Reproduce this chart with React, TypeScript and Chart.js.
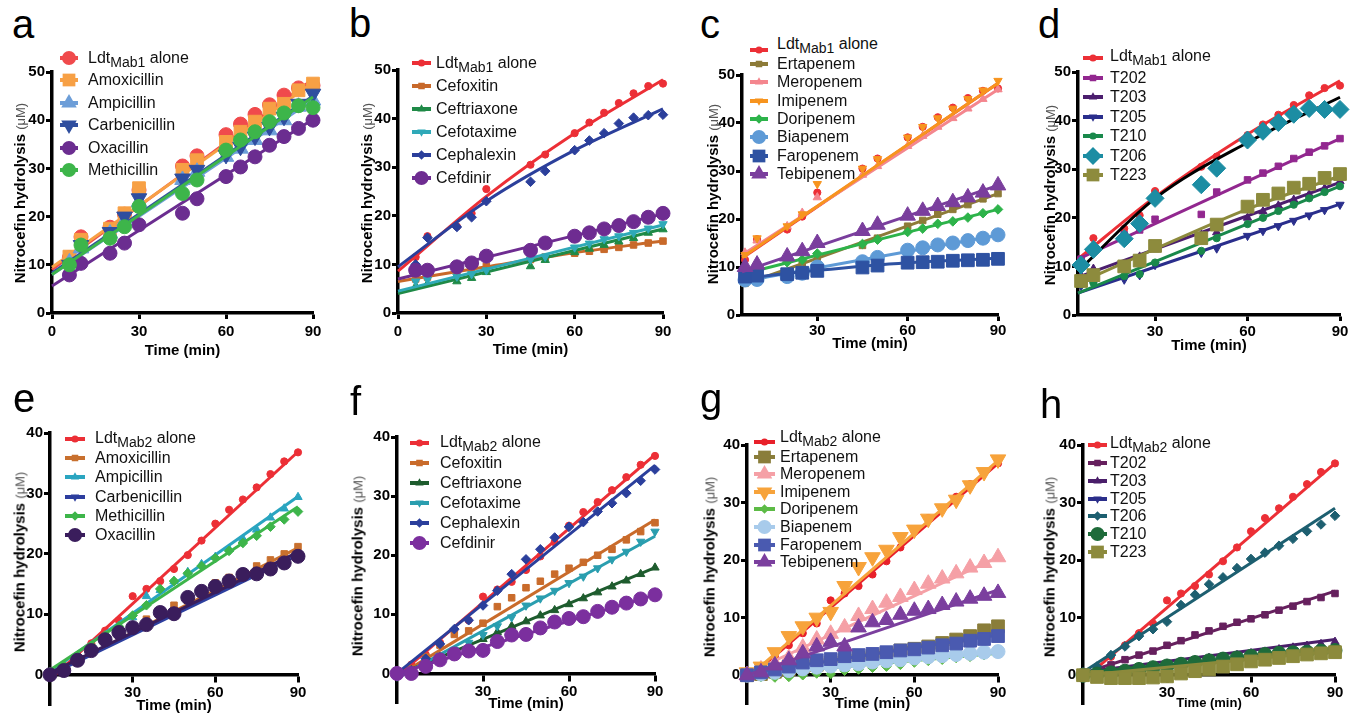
import React, { useEffect, useRef } from 'react';
import { Chart, registerables } from 'chart.js';
Chart.register(...registerables);

const FONT = '"Liberation Sans", Arial, Helvetica, sans-serif';

// ---------- shared axes data ----------
const T_TOP = [6, 10, 20, 25, 30, 45, 50, 60, 65, 70, 75, 80, 85, 90];
const T_BOT = [0, 5, 10, 15, 20, 25, 30, 35, 40, 45, 50, 55, 60, 65, 70, 75, 80, 85, 90];
const X_END = 90;
const FIT_KNOTS = [30, 60];
const X_TICKS_AB = [0, 30, 60, 90];
const X_TICKS_REST = [30, 60, 90];
const Y_TICKS_TOP = [0, 10, 20, 30, 40, 50];
const Y_TICKS_BOT = [0, 10, 20, 30, 40];

// ---------- controls ----------
const LDT1 = [11.5, 15.8, 17.8, 20.5, 25.5, 30.5, 32.6, 37.0, 39.2, 41.2, 43.2, 45.2, 46.7, 47.2];
const LDT2 = [0.0, 1.5, 3.2, 5.2, 7.3, 9.0, 13.0, 14.2, 15.5, 17.5, 19.8, 22.2, 25.0, 27.3, 29.0, 31.0, 33.2, 35.3, 36.8];

// ---------- panel a ----------
const A_LABELS = ['LdtMab1 alone', 'Amoxicillin', 'Ampicillin', 'Carbenicillin', 'Oxacillin', 'Methicillin'];
const A_AMOX = [11.7, 15.2, 17.5, 20.7, 25.9, 29.7, 31.7, 35.5, 37.6, 39.7, 42.4, 43.4, 46.2, 47.6];
const A_AMP = [10.5, 13.4, 16.5, 19.0, 23.0, 27.6, 29.3, 32.4, 34.1, 35.9, 37.9, 40.0, 42.8, 44.1];
const A_CARB = [10.0, 14.1, 16.8, 20.0, 23.8, 27.9, 29.7, 32.8, 34.5, 36.6, 38.6, 40.7, 43.4, 45.5];
const A_OXA = [7.9, 10.3, 12.4, 14.5, 18.3, 20.7, 23.7, 28.3, 30.3, 32.4, 34.8, 36.6, 38.3, 40.0];
const A_METH = [10.0, 14.1, 15.5, 17.9, 22.1, 24.8, 27.6, 33.8, 35.9, 37.6, 39.7, 41.5, 43.0, 42.6];
const A_FIT_RED = [9.0, 48.5];
const A_FIT_AMOX = [9.5, 47.8];
const A_FIT_AMP = [8.0, 44.2];
const A_FIT_CARB = [8.3, 45.0];
const A_FIT_OXA = [5.6, 40.2];
const A_FIT_METH = [8.0, 44.8];

// ---------- panel b ----------
const B_LABELS = ['LdtMab1 alone', 'Cefoxitin', 'Ceftriaxone', 'Cefotaxime', 'Cephalexin', 'Cefdinir'];
const B_CEFOX = [7.0, 7.4, 8.4, 9.0, 9.6, 11.0, 11.5, 12.3, 12.7, 13.1, 13.5, 14.0, 14.4, 14.8];
const B_CEFTRI = [5.5, 6.0, 6.5, 7.2, 8.4, 9.6, 10.9, 12.5, 13.2, 14.0, 14.7, 15.4, 16.5, 17.2];
const B_CEFOT = [6.5, 6.9, 7.5, 8.0, 8.8, 11.0, 11.6, 13.5, 14.3, 15.2, 15.8, 16.5, 17.4, 18.3];
const B_CEPH = [10.0, 15.5, 17.7, 19.7, 23.0, 27.0, 29.2, 33.5, 35.5, 37.0, 39.0, 40.2, 40.7, 40.8];
const B_CEFD = [8.8, 8.8, 9.5, 10.3, 11.7, 12.9, 14.4, 15.8, 16.5, 17.3, 18.0, 18.8, 19.7, 20.5];
const B_FIT_RED = [8.6, 24.0, 37.0, 48.0];
const B_FIT_CEFOX = [6.5, 9.5, 12.4, 14.8];
const B_FIT_CEFTRI = [4.0, 17.3];
const B_FIT_CEFOT = [4.5, 18.1];
const B_FIT_CEPH = [9.5, 23.0, 33.5, 42.0];
const B_FIT_CEFD = [7.0, 20.4];

// ---------- panel c ----------
const C_LABELS = ['LdtMab1 alone', 'Ertapenem', 'Meropenem', 'Imipenem', 'Doripenem', 'Biapenem', 'Faropenem', 'Tebipenem'];
const C_ERTA = [6.6, 7.5, 9.0, 10.5, 12.0, 14.5, 16.0, 18.5, 19.7, 21.0, 22.0, 23.0, 24.2, 25.3];
const C_MERO = [13.0, 15.5, 18.5, 21.3, 24.5, 29.2, 31.0, 35.2, 37.3, 39.2, 41.0, 43.0, 45.0, 47.0];
const C_IMI = [12.5, 16.0, 18.5, 21.0, 27.3, 30.5, 32.5, 37.0, 39.2, 41.0, 43.0, 45.0, 46.8, 48.8];
const C_DORI = [8.5, 9.3, 11.0, 11.5, 12.8, 14.8, 15.7, 17.3, 18.0, 19.0, 19.5, 20.3, 21.2, 22.0];
const C_BIA = [7.3, 7.4, 8.0, 8.7, 10.0, 11.1, 12.0, 13.5, 14.0, 14.6, 15.0, 15.5, 16.0, 16.7];
const C_FARO = [8.0, 8.2, 8.5, 8.8, 9.2, 9.9, 10.3, 10.9, 11.0, 11.1, 11.3, 11.4, 11.5, 11.7];
const C_TEBI = [10.0, 10.5, 12.2, 13.3, 15.0, 17.5, 18.8, 20.7, 21.7, 22.7, 23.5, 24.5, 25.5, 27.0];
const C_FIT_RED = [11.8, 48.3];
const C_FIT_ERTA = [6.2, 25.3];
const C_FIT_MERO = [12.5, 47.0];
const C_FIT_IMI = [12.0, 48.3];
const C_FIT_DORI = [8.5, 22.0];
const C_FIT_BIA = [7.0, 16.6];
const C_FIT_FARO = [7.6, 9.3, 10.9, 11.8];
const C_FIT_TEBI = [9.0, 27.0];

// ---------- panel d ----------
const D_LABELS = ['LdtMab1 alone', 'T202', 'T203', 'T205', 'T210', 'T206', 'T223'];
const D_T202 = [11.5, 13.7, 16.5, 17.5, 19.7, 20.7, 25.3, 27.8, 29.2, 30.6, 32.2, 33.5, 34.8, 36.3];
const D_T203 = [8.0, 9.5, 10.5, 12.0, 13.5, 16.5, 17.0, 20.0, 21.3, 22.5, 23.7, 24.8, 26.0, 27.5];
const D_T205 = [6.0, 6.5, 7.3, 8.2, 10.3, 12.8, 13.7, 16.3, 17.3, 18.3, 19.4, 20.5, 21.6, 22.7];
const D_T210 = [6.3, 6.6, 8.0, 8.4, 10.8, 13.2, 15.8, 18.7, 20.0, 21.4, 22.7, 24.0, 25.3, 26.5];
const D_T206 = [10.3, 13.5, 15.7, 18.8, 24.0, 26.8, 30.2, 36.0, 37.8, 39.6, 41.3, 42.5, 42.3, 42.3];
const D_T223 = [7.0, 8.2, 10.0, 11.2, 14.2, 15.8, 18.6, 22.3, 23.7, 25.0, 26.2, 27.0, 28.2, 29.0];
const D_FIT_RED = [11.5, 24.3, 37.2, 48.2];
const D_FIT_T202 = [11.5, 36.3];
const D_FIT_T203 = [7.8, 27.3];
const D_FIT_T205 = [4.5, 22.8];
const D_FIT_T210 = [4.5, 26.5];
const D_FIT_T206 = [9.0, 24.0, 35.5, 44.8];
const D_FIT_T223 = [6.5, 13.6, 21.8, 28.6];

// ---------- panel e ----------
const E_LABELS = ['LdtMab2 alone', 'Amoxicillin', 'Ampicillin', 'Carbenicillin', 'Methicillin', 'Oxacillin'];
const E_AMOX = [0.0, 1.0, 2.4, 4.0, 5.8, 7.0, 7.8, 9.2, 10.3, 11.5, 12.8, 14.0, 15.2, 16.1, 17.0, 18.0, 19.0, 20.0, 21.2];
const E_AMP = [0.0, 1.5, 3.0, 4.5, 6.0, 8.0, 9.5, 13.0, 14.0, 15.5, 17.0, 18.3, 19.5, 20.8, 22.5, 24.0, 26.0, 27.5, 29.4];
const E_CARB = [0.0, 0.8, 2.2, 3.8, 5.5, 6.8, 7.6, 8.5, 9.8, 10.6, 12.0, 13.0, 14.0, 15.5, 16.0, 16.7, 17.5, 18.6, 19.5];
const E_METH = [0.5, 1.5, 3.0, 4.8, 6.5, 8.0, 9.8, 11.5, 14.2, 15.5, 16.8, 18.0, 19.3, 20.5, 21.8, 23.0, 24.5, 25.7, 27.0];
const E_OXA = [0.0, 0.7, 2.4, 4.0, 5.8, 7.0, 7.8, 8.3, 10.3, 10.1, 12.8, 13.8, 14.6, 15.5, 16.6, 16.7, 17.5, 18.5, 19.6];
const E_FIT_RED = [-0.8, 36.9];
const E_FIT_AMOX = [0.0, 21.0];
const E_FIT_AMP = [0.5, 29.5];
const E_FIT_CARB = [0.0, 19.8];
const E_FIT_METH = [0.8, 27.8];
const E_FIT_OXA = [0.3, 20.3];

// ---------- panel f ----------
const F_LABELS = ['LdtMab2 alone', 'Cefoxitin', 'Ceftriaxone', 'Cefotaxime', 'Cephalexin', 'Cefdinir'];
const F_CEFOX = [0.0, 0.8, 2.8, 4.8, 6.6, 7.2, 8.5, 11.3, 12.8, 14.5, 15.6, 16.8, 17.8, 18.8, 20.0, 21.0, 22.6, 24.0, 25.5];
const F_CEFTRI = [0.0, 0.5, 1.5, 2.8, 3.8, 4.8, 5.8, 7.0, 8.0, 8.8, 9.8, 10.7, 11.7, 12.7, 13.7, 14.7, 15.7, 16.8, 17.9];
const F_CEFOT = [-0.5, 0.5, 1.8, 3.0, 4.0, 5.2, 6.5, 8.0, 9.5, 11.5, 12.7, 14.0, 15.3, 16.4, 17.8, 19.3, 20.6, 22.3, 24.0];
const F_CEPH = [0.0, 0.5, 2.5, 5.0, 7.5, 9.0, 11.5, 14.0, 16.8, 19.3, 21.0, 23.0, 24.8, 25.6, 27.4, 28.8, 30.5, 32.6, 34.5];
const F_CEFD = [0.0, 0.0, 1.2, 2.3, 3.3, 3.8, 3.9, 5.4, 6.5, 6.6, 7.7, 8.7, 9.3, 9.6, 10.5, 11.2, 11.9, 12.6, 13.3];
const F_FIT_RED = [-0.5, 37.0];
const F_FIT_CEFOX = [-0.5, 26.0];
const F_FIT_CEFTRI = [-0.3, 17.9];
const F_FIT_CEFOT = [-0.8, 23.2];
const F_FIT_CEPH = [0.0, 35.2];
const F_FIT_CEFD = [0.0, 13.3];

// ---------- panel g ----------
const G_LABELS = ['LdtMab2 alone', 'Ertapenem', 'Meropenem', 'Imipenem', 'Doripenem', 'Biapenem', 'Faropenem', 'Tebipenem'];
const G_ERTA = [0.0, 0.2, 0.6, 1.0, 1.5, 1.8, 2.2, 2.6, 3.0, 3.4, 3.8, 4.3, 4.6, 5.0, 5.6, 6.2, 6.8, 7.8, 8.5];
const G_MERO = [0.0, 1.0, 2.0, 3.0, 4.8, 6.2, 7.2, 8.3, 10.3, 11.5, 12.6, 13.6, 14.8, 15.9, 16.8, 17.7, 18.7, 19.5, 20.5];
const G_IMI = [0.5, 1.5, 4.0, 6.8, 8.5, 10.0, 11.0, 15.5, 18.8, 20.5, 21.8, 24.0, 25.3, 27.2, 29.0, 30.5, 33.0, 35.3, 37.5];
const G_DORI = [0.0, -0.3, -0.4, -0.3, 0.0, 0.3, 0.2, 0.8, 1.0, 1.3, 1.5, 1.8, 2.2, 2.5, 2.7, 3.0, 3.2, 3.5, 3.8];
const G_BIA = [0.0, 0.2, 0.5, 0.8, 1.1, 1.4, 1.6, 1.8, 2.0, 2.3, 2.5, 2.7, 3.0, 3.2, 3.4, 3.6, 3.8, 4.0, 4.1];
const G_FARO = [0.0, 0.5, 1.0, 1.5, 2.2, 2.6, 2.8, 3.3, 3.5, 3.7, 4.0, 4.3, 4.5, 4.8, 5.2, 5.5, 6.0, 6.3, 6.8];
const G_TEBI = [0.0, 0.5, 1.7, 2.6, 3.8, 5.0, 5.8, 5.0, 8.3, 9.2, 9.6, 10.5, 11.2, 11.5, 12.2, 12.8, 13.3, 13.8, 14.3];
const G_FIT_RED = [-0.8, 36.8];
const G_FIT_ERTA = [0.0, 7.5];
const G_FIT_MERO = [0.3, 20.5];
const G_FIT_IMI = [-0.5, 37.3];
const G_FIT_DORI = [0.0, 3.8];
const G_FIT_BIA = [0.0, 4.0];
const G_FIT_FARO = [0.3, 7.0];
const G_FIT_TEBI = [0.0, 14.8];

// ---------- panel h ----------
const H_LABELS = ['LdtMab2 alone', 'T202', 'T203', 'T205', 'T206', 'T210', 'T223'];
const H_T202 = [0.3, 0.8, 1.8, 2.7, 3.5, 4.2, 5.2, 6.0, 7.0, 7.7, 8.5, 9.2, 9.8, 10.5, 11.3, 12.0, 12.8, 13.5, 14.2];
const H_T203 = [0.0, 0.4, 0.7, 1.0, 1.4, 1.6, 2.0, 2.3, 2.6, 3.0, 3.2, 3.5, 3.8, 4.1, 4.5, 4.8, 5.1, 5.4, 5.8];
const H_T205 = [0.0, 0.1, 0.4, 0.7, 1.0, 1.2, 1.5, 1.8, 2.0, 2.3, 2.5, 2.8, 3.0, 3.2, 3.5, 3.7, 3.9, 4.1, 4.3];
const H_T206 = [0.5, 1.5, 3.5, 5.0, 6.8, 8.0, 9.3, 12.2, 14.0, 15.8, 17.0, 18.6, 20.2, 21.3, 22.5, 23.7, 25.0, 26.2, 27.7];
const H_T210 = [0.0, 0.2, 0.4, 0.7, 1.0, 1.3, 1.6, 1.9, 2.2, 2.5, 2.8, 3.0, 3.3, 3.6, 3.8, 3.9, 4.0, 4.2, 4.3];
const H_T223 = [0.0, -0.3, -0.5, -0.5, -0.5, -0.4, -0.2, 0.3, 0.7, 1.0, 1.5, 1.9, 2.4, 2.7, 3.0, 3.3, 3.6, 3.8, 4.0];
const H_FIT_RED = [-0.8, 36.8];
const H_FIT_T202 = [0.3, 14.6];
const H_FIT_T203 = [0.5, 6.2];
const H_FIT_T205 = [0.0, 4.5];
const H_FIT_T206 = [0.5, 29.0];
const H_FIT_T210 = [0.5, 4.4];
const H_FIT_T223 = [0.0, 4.2];

// ---------- styles ----------
type Shape = 'circle' | 'rect' | 'triangle' | 'tridown' | 'diamond';
interface Series { label: string; color: string; fitColor?: string; shape: Shape; r: number; y: number[]; fit: number[]; }
const S = (label: string, color: string, shape: Shape, r: number, y: number[], fit: number[], fitColor?: string): Series =>
  ({ label, color, shape, r, y, fit, fitColor });

const RED = '#EC2F36';
const RED_A = '#F04A4C';
const BIG_C = 7, BIG_R = 9, BIG_T = 9, SM_C = 3.6, SM_R = 4.6, SM_T = 4.8, SM_D = 4.8;

interface PanelCfg {
  letter: string; letterX: number; letterBase: number;
  area: { l: number; t: number; r: number; b: number };
  xMin: number; yMin: number; yMax: number;
  xTicks: number[]; yTicks: number[]; times: number[];
  xAtZero: boolean; titleGap: number; titleSize: number; tickSize: number; xTickPad: number;
  yTitle: { x: number; y: number };
  legend: { x1: number; x2: number; tx: number; y0: number; gap1: number; rowH: number; firstDy: number };
  series: Series[];
}

const PANELS: PanelCfg[] = [
  {
    letter: 'a', letterX: 12, letterBase: 38, area: { l: 52, t: 72, r: 313, b: 313 },
    xMin: 0, yMin: 0, yMax: 50, xTicks: X_TICKS_AB, yTicks: Y_TICKS_TOP, times: T_TOP,
    xAtZero: false, titleGap: 38, titleSize: 15, tickSize: 15, xTickPad: 4, yTitle: { x: 20, y: 193 },
    legend: { x1: 60, x2: 78, tx: 88, y0: 58, gap1: 22.4, rowH: 22.4, firstDy: 0 },
    series: [
      S(A_LABELS[0], RED_A, 'circle', BIG_C, LDT1, A_FIT_RED),
      S(A_LABELS[1], '#F7A045', 'rect', BIG_R, A_AMOX, A_FIT_AMOX),
      S(A_LABELS[2], '#6D9ED8', 'triangle', BIG_T, A_AMP, A_FIT_AMP),
      S(A_LABELS[3], '#2F4E9F', 'tridown', BIG_T, A_CARB, A_FIT_CARB),
      S(A_LABELS[4], '#6B2D90', 'circle', BIG_C, A_OXA, A_FIT_OXA),
      S(A_LABELS[5], '#3DB54A', 'circle', BIG_C, A_METH, A_FIT_METH),
    ],
  },
  {
    letter: 'b', letterX: 349, letterBase: 37, area: { l: 398, t: 70, r: 663, b: 313 },
    xMin: 0, yMin: 0, yMax: 50, xTicks: X_TICKS_AB, yTicks: Y_TICKS_TOP, times: T_TOP,
    xAtZero: false, titleGap: 37, titleSize: 15, tickSize: 15, xTickPad: 4, yTitle: { x: 367, y: 193 },
    legend: { x1: 412, x2: 431, tx: 436, y0: 63, gap1: 23, rowH: 23, firstDy: 0 },
    series: [
      S(B_LABELS[0], RED, 'circle', SM_C, LDT1, B_FIT_RED),
      S(B_LABELS[1], '#C8692A', 'rect', SM_R, B_CEFOX, B_FIT_CEFOX),
      S(B_LABELS[2], '#1F8A47', 'triangle', SM_T, B_CEFTRI, B_FIT_CEFTRI),
      S(B_LABELS[3], '#2FA9B8', 'tridown', SM_T, B_CEFOT, B_FIT_CEFOT),
      S(B_LABELS[4], '#2B3F9B', 'diamond', SM_D, B_CEPH, B_FIT_CEPH),
      S(B_LABELS[5], '#6E2C91', 'circle', BIG_C, B_CEFD, B_FIT_CEFD),
    ],
  },
  {
    letter: 'c', letterX: 700, letterBase: 38, area: { l: 742, t: 75, r: 998, b: 315 },
    xMin: 5, yMin: 0, yMax: 50, xTicks: X_TICKS_REST, yTicks: Y_TICKS_TOP, times: T_TOP,
    xAtZero: false, titleGap: 29, titleSize: 15, tickSize: 15, xTickPad: 1, yTitle: { x: 713, y: 194 },
    legend: { x1: 750, x2: 768, tx: 777, y0: 50, gap1: 14, rowH: 18.3, firstDy: -6 },
    series: [
      S(C_LABELS[0], RED, 'circle', SM_C, LDT1, C_FIT_RED),
      S(C_LABELS[1], '#8D7B38', 'rect', SM_R, C_ERTA, C_FIT_ERTA),
      S(C_LABELS[2], '#F4868E', 'triangle', SM_T, C_MERO, C_FIT_MERO),
      S(C_LABELS[3], '#F7941E', 'tridown', SM_T, C_IMI, C_FIT_IMI),
      S(C_LABELS[4], '#2DB34A', 'diamond', SM_D, C_DORI, C_FIT_DORI),
      S(C_LABELS[5], '#5E9AD6', 'circle', BIG_C, C_BIA, C_FIT_BIA),
      S(C_LABELS[6], '#2E52A2', 'rect', BIG_R, C_FARO, C_FIT_FARO),
      S(C_LABELS[7], '#7A3E9D', 'triangle', BIG_T, C_TEBI, C_FIT_TEBI),
    ],
  },
  {
    letter: 'd', letterX: 1038, letterBase: 38, area: { l: 1078, t: 72, r: 1340, b: 315 },
    xMin: 5, yMin: 0, yMax: 50, xTicks: X_TICKS_REST, yTicks: Y_TICKS_TOP, times: T_TOP,
    xAtZero: false, titleGap: 31, titleSize: 15, tickSize: 15, xTickPad: 2, yTitle: { x: 1050, y: 195 },
    legend: { x1: 1083, x2: 1103, tx: 1110, y0: 58, gap1: 19.5, rowH: 19.5, firstDy: -2 },
    series: [
      S(D_LABELS[0], RED, 'circle', SM_C, LDT1, D_FIT_RED),
      S(D_LABELS[1], '#92278F', 'rect', SM_R, D_T202, D_FIT_T202),
      S(D_LABELS[2], '#4B1E6E', 'triangle', SM_T, D_T203, D_FIT_T203),
      S(D_LABELS[3], '#2A2E8C', 'tridown', SM_T, D_T205, D_FIT_T205),
      S(D_LABELS[4], '#19894B', 'circle', SM_C, D_T210, D_FIT_T210),
      S(D_LABELS[5], '#1C8DA3', 'diamond', 9, D_T206, D_FIT_T206, '#000000'),
      S(D_LABELS[6], '#8D8B3D', 'rect', BIG_R, D_T223, D_FIT_T223),
    ],
  },
  {
    letter: 'e', letterX: 13, letterBase: 412, area: { l: 50, t: 433, r: 298, b: 705 },
    xMin: 0, yMin: -5, yMax: 40, xTicks: X_TICKS_REST, yTicks: Y_TICKS_BOT, times: T_BOT,
    xAtZero: true, titleGap: 31, titleSize: 15, tickSize: 15, xTickPad: 3, yTitle: { x: 20, y: 562 },
    legend: { x1: 65, x2: 85, tx: 95, y0: 439, gap1: 19.2, rowH: 19.2, firstDy: -1 },
    series: [
      S(E_LABELS[0], RED, 'circle', SM_C, LDT2, E_FIT_RED),
      S(E_LABELS[1], '#C8702E', 'rect', SM_R, E_AMOX, E_FIT_AMOX),
      S(E_LABELS[2], '#2AA5C0', 'triangle', SM_T, E_AMP, E_FIT_AMP),
      S(E_LABELS[3], '#2D3E9E', 'tridown', SM_T, E_CARB, E_FIT_CARB),
      S(E_LABELS[4], '#3DB54A', 'diamond', SM_D, E_METH, E_FIT_METH),
      S(E_LABELS[5], '#3A1D5C', 'circle', BIG_C, E_OXA, E_FIT_OXA),
    ],
  },
  {
    letter: 'f', letterX: 350, letterBase: 415, area: { l: 397, t: 437, r: 655, b: 703 },
    xMin: 0, yMin: -5, yMax: 40, xTicks: X_TICKS_REST, yTicks: Y_TICKS_BOT, times: T_BOT,
    xAtZero: true, titleGap: 30, titleSize: 15, tickSize: 15, xTickPad: 3, yTitle: { x: 358, y: 566 },
    legend: { x1: 410, x2: 429, tx: 440, y0: 443, gap1: 20, rowH: 20, firstDy: -1 },
    series: [
      S(F_LABELS[0], RED, 'circle', SM_C, LDT2, F_FIT_RED),
      S(F_LABELS[1], '#C96B2B', 'rect', SM_R, F_CEFOX, F_FIT_CEFOX),
      S(F_LABELS[2], '#1E5C2E', 'triangle', SM_T, F_CEFTRI, F_FIT_CEFTRI),
      S(F_LABELS[3], '#2A9EAF', 'tridown', SM_T, F_CEFOT, F_FIT_CEFOT),
      S(F_LABELS[4], '#2B3F9C', 'diamond', SM_D, F_CEPH, F_FIT_CEPH),
      S(F_LABELS[5], '#7B2F9E', 'circle', BIG_C, F_CEFD, F_FIT_CEFD),
    ],
  },
  {
    letter: 'g', letterX: 700, letterBase: 412, area: { l: 747, t: 445, r: 998, b: 704 },
    xMin: 0, yMin: -5, yMax: 40, xTicks: X_TICKS_REST, yTicks: Y_TICKS_BOT, times: T_BOT,
    xAtZero: true, titleGap: 29, titleSize: 15, tickSize: 15, xTickPad: 3, yTitle: { x: 710, y: 567 },
    legend: { x1: 754, x2: 775, tx: 780, y0: 442, gap1: 14.5, rowH: 17.6, firstDy: -5 },
    series: [
      S(G_LABELS[0], '#E8202A', 'circle', SM_C, LDT2, G_FIT_RED),
      S(G_LABELS[1], '#8A7D3A', 'rect', BIG_R, G_ERTA, G_FIT_ERTA),
      S(G_LABELS[2], '#F5A0A6', 'triangle', BIG_T, G_MERO, G_FIT_MERO),
      S(G_LABELS[3], '#F7A33B', 'tridown', BIG_T, G_IMI, G_FIT_IMI),
      S(G_LABELS[4], '#5DBB46', 'diamond', SM_D, G_DORI, G_FIT_DORI),
      S(G_LABELS[5], '#A8CBEB', 'circle', BIG_C, G_BIA, G_FIT_BIA),
      S(G_LABELS[6], '#4A5AB0', 'rect', BIG_R, G_FARO, G_FIT_FARO),
      S(G_LABELS[7], '#7B3F9E', 'triangle', BIG_T, G_TEBI, G_FIT_TEBI),
    ],
  },
  {
    letter: 'h', letterX: 1040, letterBase: 418, area: { l: 1083, t: 445, r: 1335, b: 704 },
    xMin: 0, yMin: -5, yMax: 40, xTicks: X_TICKS_REST, yTicks: Y_TICKS_BOT, times: T_BOT,
    xAtZero: true, titleGap: 28, titleSize: 13, tickSize: 15, xTickPad: 3, yTitle: { x: 1050, y: 567 },
    legend: { x1: 1088, x2: 1107, tx: 1110, y0: 445, gap1: 18, rowH: 17.8, firstDy: -2 },
    series: [
      S(H_LABELS[0], RED, 'circle', SM_C, LDT2, H_FIT_RED),
      S(H_LABELS[1], '#66205E', 'rect', SM_R, H_T202, H_FIT_T202),
      S(H_LABELS[2], '#4A1E6A', 'triangle', SM_T, H_T203, H_FIT_T203),
      S(H_LABELS[3], '#2B2E8A', 'tridown', SM_T, H_T205, H_FIT_T205),
      S(H_LABELS[4], '#1D5F70', 'diamond', SM_D, H_T206, H_FIT_T206),
      S(H_LABELS[5], '#1E6B3A', 'circle', BIG_C, H_T210, H_FIT_T210),
      S(H_LABELS[6], '#8C8A3C', 'rect', BIG_R, H_T223, H_FIT_T223),
    ],
  },
];

function pointStyleOf(shape: Shape): { style: any; rot: number } {
  switch (shape) {
    case 'rect': return { style: 'rect', rot: 0 };
    case 'triangle': return { style: 'triangle', rot: 0 };
    case 'tridown': return { style: 'triangle', rot: 180 };
    case 'diamond': return { style: 'rectRot', rot: 0 };
    default: return { style: 'circle', rot: 0 };
  }
}

function MarkerShape({ shape, r, color, cx, cy }: { shape: Shape; r: number; color: string; cx: number; cy: number }) {
  if (shape === 'circle') return <circle cx={cx} cy={cy} r={r} fill={color} />;
  if (shape === 'rect') {
    const h = r * Math.SQRT1_2;
    return <rect x={cx - h} y={cy - h} width={2 * h} height={2 * h} fill={color} />;
  }
  if (shape === 'diamond') {
    return <polygon points={`${cx},${cy - r} ${cx + r},${cy} ${cx},${cy + r} ${cx - r},${cy}`} fill={color} />;
  }
  const s = shape === 'tridown' ? -1 : 1;
  const pts = [
    [cx, cy - s * r],
    [cx + 0.866 * r, cy + s * 0.5 * r],
    [cx - 0.866 * r, cy + s * 0.5 * r],
  ].map((p) => p.join(',')).join(' ');
  return <polygon points={pts} fill={color} />;
}

function LegendLabel({ text }: { text: string }) {
  const m = /^Ldt(Mab\d) alone$/.exec(text);
  if (m) {
    return (
      <span>
        Ldt<sub style={{ fontSize: 14, verticalAlign: '-4px', lineHeight: 0 }}>{m[1]}</sub> alone
      </span>
    );
  }
  return <span>{text}</span>;
}

const WY = 45, PT = 12, PR = 16, PB = 12;

function Panel({ cfg }: { cfg: PanelCfg }) {
  const ref = useRef<HTMLCanvasElement>(null);
  const { area } = cfg;
  const lh = cfg.titleSize * 1.2;
  const HX = cfg.titleGap + lh / 2;
  const cLeft = area.l - WY;
  const cTop = area.t - PT;
  const cw = area.r - area.l + WY + PR;
  const ch = cfg.xAtZero ? area.b - area.t + PT + PB : area.b - area.t + PT + HX;

  useEffect(() => {
    const n = cfg.series.length;
    const datasets: any[] = [];
    cfg.series.forEach((s, i) => {
      const st = pointStyleOf(s.shape);
      const fx = s.fit.length === 2 ? [cfg.xMin, X_END] : [cfg.xMin, ...FIT_KNOTS, X_END];
      datasets.push({
        label: s.label + ' fit',
        data: fx.map((x, k) => ({ x, y: s.fit[k] })),
        borderColor: s.fitColor ?? s.color,
        borderWidth: 3,
        pointRadius: 0,
        showLine: true,
        fill: false,
        cubicInterpolationMode: 'monotone',
        clip: false,
        order: (n - i) * 2 + 1,
      });
      datasets.push({
        label: s.label,
        data: cfg.times.map((t, k) => ({ x: t, y: s.y[k] })),
        showLine: false,
        pointStyle: st.style,
        pointRotation: st.rot,
        pointRadius: s.r,
        pointHoverRadius: s.r,
        pointBackgroundColor: s.color,
        pointBorderColor: s.color,
        pointBorderWidth: 1,
        backgroundColor: s.color,
        borderColor: s.color,
        clip: false,
        order: (n - i) * 2,
      });
    });
    const tickFont = { family: FONT, size: cfg.tickSize, weight: 'bold' as const };
    const chart = new Chart(ref.current!, {
      type: 'line',
      data: { datasets },
      options: {
        responsive: false,
        animation: false,
        events: [],
        layout: { padding: { left: 0, top: PT, right: PR, bottom: cfg.xAtZero ? PB : 0 } },
        plugins: { legend: { display: false }, tooltip: { enabled: false } },
        scales: {
          x: {
            type: 'linear',
            min: cfg.xMin,
            max: X_END,
            position: (cfg.xAtZero ? { y: 0 } : 'bottom') as any,
            afterBuildTicks: (sc: any) => { sc.ticks = cfg.xTicks.map((v) => ({ value: v })); },
            afterFit: (sc: any) => { sc.height = HX; },
            ticks: { font: tickFont, color: '#000', padding: cfg.xTickPad, maxRotation: 0, autoSkip: false },
            grid: { display: true, drawOnChartArea: false, drawTicks: true, tickLength: 6, tickWidth: 3, tickColor: '#000' },
            border: { display: true, color: '#000', width: 3.5 },
            title: { display: true, text: 'Time (min)', color: '#000', font: { family: FONT, size: cfg.titleSize, weight: 'bold' }, padding: 0 },
          },
          y: {
            type: 'linear',
            min: cfg.yMin,
            max: cfg.yMax,
            afterBuildTicks: (sc: any) => { sc.ticks = cfg.yTicks.map((v) => ({ value: v })); },
            afterFit: (sc: any) => { sc.width = WY; },
            ticks: { font: tickFont, color: '#000', padding: 1, autoSkip: false },
            grid: { display: true, drawOnChartArea: false, drawTicks: true, tickLength: 6, tickWidth: 3, tickColor: '#000' },
            border: { display: true, color: '#000', width: 3.5 },
          },
        },
      },
    });
    return () => chart.destroy();
  }, []);

  const lg = cfg.legend;
  const lw = lg.x2 - lg.x1;
  return (
    <>
      <canvas
        ref={ref}
        width={cw}
        height={ch}
        style={{ position: 'absolute', left: cLeft, top: cTop, width: cw, height: ch }}
      />
      <div
        style={{
          position: 'absolute', left: cfg.letterX, top: cfg.letterBase - 34, fontFamily: FONT,
          fontSize: 40, lineHeight: '40px', color: '#000',
        }}
      >
        {cfg.letter}
      </div>
      <div
        style={{
          position: 'absolute', left: cfg.yTitle.x, top: cfg.yTitle.y, transform: 'translate(-50%, -50%) rotate(-90deg)',
          whiteSpace: 'nowrap', fontFamily: FONT, fontSize: 15, fontWeight: 'bold', color: '#000', lineHeight: '18px',
        }}
      >
        Nitrocefin hydrolysis <span style={{ fontWeight: 'normal', fontSize: 13, color: '#555' }}>(μM)</span>
      </div>
      {cfg.series.map((s, i) => {
        const yc = i === 0 ? lg.y0 : lg.y0 + lg.gap1 + (i - 1) * lg.rowH;
        return (
          <div
            key={s.label}
            style={{
              position: 'absolute', left: lg.x1, top: yc - 12, height: 24, display: 'flex', alignItems: 'center',
              fontFamily: FONT, fontSize: 16, color: '#111', whiteSpace: 'nowrap', lineHeight: '16px',
            }}
          >
            <svg width={lw} height={24} style={{ overflow: 'visible', flex: 'none' }}>
              <line x1={0} y1={12} x2={lw} y2={12} stroke={s.fitColor && s.fitColor !== '#000000' ? s.fitColor : s.color} strokeWidth={4} />
              <MarkerShape shape={s.shape} r={s.r} color={s.color} cx={lw / 2} cy={12} />
            </svg>
            <span style={{ marginLeft: lg.tx - lg.x2, position: 'relative', top: i === 0 ? lg.firstDy : 0 }}>
              <LegendLabel text={s.label} />
            </span>
          </div>
        );
      })}
    </>
  );
}

export default function App() {
  return (
    <div style={{ position: 'absolute', left: 0, top: 0, width: 1351, height: 714, overflow: 'hidden', background: '#fff' }}>
      {PANELS.map((p) => (
        <Panel key={p.letter} cfg={p} />
      ))}
    </div>
  );
}
